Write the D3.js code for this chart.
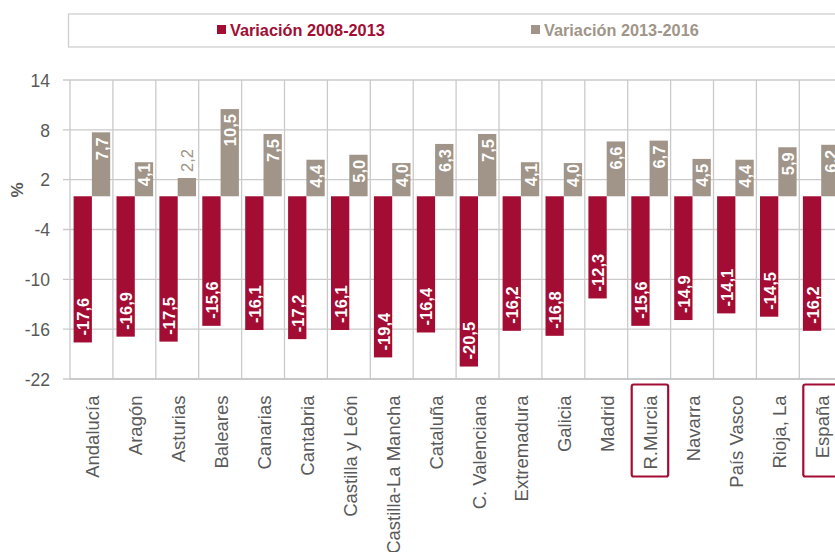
<!DOCTYPE html>
<html><head><meta charset="utf-8">
<script src="https://cdn.jsdelivr.net/npm/d3@7"></script>
<style>body{margin:0;background:#fff}svg{display:block;font-family:Arial,"Liberation Sans",sans-serif}</style>
</head><body><svg id="c" width="835" height="552"></svg>
<script>
const categories = ["Andalucía","Aragón","Asturias","Baleares","Canarias","Cantabria","Castilla y León","Castilla-La Mancha","Cataluña","C. Valenciana","Extremadura","Galicia","Madrid","R.Murcia","Navarra","País Vasco","Rioja, La","España"];
const var2008_2013 = [-17.6,-16.9,-17.5,-15.6,-16.1,-17.2,-16.1,-19.4,-16.4,-20.5,-16.2,-16.8,-12.3,-15.6,-14.9,-14.1,-14.5,-16.2];
const var2013_2016 = [7.7,4.1,2.2,10.5,7.5,4.4,5.0,4.0,6.3,7.5,4.1,4.0,6.6,6.7,4.5,4.4,5.9,6.2];
const seriesNames = ["Variación 2008-2013","Variación 2013-2016"];
const yTicks = [14,8,2,-4,-10,-16,-22];
const highlighted = ["R.Murcia","España"];

const colors = ["#A30D33","#A09588"];
const svg = d3.select("#c");
const pLeft = 70, pTop = 80, pBottom = 379, bw = 42.9;
const x0 = d3.scaleBand().domain(categories).range([pLeft, pLeft + bw*categories.length]).paddingInner(0).paddingOuter(0);
const x1 = d3.scaleBand().domain([0,1]).range([3.6, 40.2]);
const y = d3.scaleLinear().domain([-22,14]).range([pBottom, pTop]);
const fmt = v => v.toFixed(1).replace(".", ",");

// Legend box
svg.append("rect").attr("x",68.5).attr("y",14).attr("width",800).attr("height",33)
  .attr("fill","#fff").attr("stroke","#cfcfcf").attr("stroke-width",1.3);
const legX = [217, 531];
seriesNames.forEach((n,i)=>{
  svg.append("rect").attr("x",legX[i]).attr("y",25).attr("width",9).attr("height",9).attr("fill",colors[i]);
  svg.append("text").attr("x",legX[i]+13).attr("y",36).attr("font-size",16.3).attr("font-weight","bold")
    .attr("fill",colors[i]).text(n);
});

// Grid
const grid = svg.append("g").attr("stroke","#cacaca").attr("stroke-width",1.3);
yTicks.forEach(t=>{
  grid.append("line").attr("x1",pLeft-7).attr("x2",840).attr("y1",y(t)).attr("y2",y(t));
});
categories.forEach((c,i)=>{
  grid.append("line").attr("x1",x0(c)).attr("x2",x0(c)).attr("y1",pTop).attr("y2",pBottom);
});
grid.append("line").attr("x1",x0.range()[1]).attr("x2",x0.range()[1]).attr("y1",pTop).attr("y2",pBottom);

// Y axis labels
const yAxis = svg.append("g").attr("transform",`translate(${pLeft-17},0)`)
  .call(d3.axisLeft(y).tickValues(yTicks).tickSize(0).tickFormat(d=>d));
yAxis.select(".domain").remove();
yAxis.selectAll("text").attr("font-size",17.5).attr("fill","#595959").attr("font-family","Arial,'Liberation Sans',sans-serif").attr("dy","0.36em");

svg.append("text").attr("transform","translate(23,190) rotate(-90)").attr("text-anchor","middle")
  .attr("font-size",17).attr("font-weight","bold").attr("fill","#595959").text("%");

// Bars
const data = categories.map((c,i)=>({c, v:[var2008_2013[i], var2013_2016[i]]}));
const g = svg.append("g");
data.forEach(d=>{
  d.v.forEach((v,s)=>{
    const bx = x0(d.c) + x1(s), w = x1.bandwidth();
    const y0 = y(0), yv = y(v);
    g.append("rect").attr("x",bx).attr("y",Math.min(y0,yv)).attr("width",w).attr("height",Math.abs(yv-y0)).attr("fill",colors[s]);
    const cx = bx + w/2;
    const t = g.append("text").attr("font-size",16.5).attr("font-weight","bold").attr("dominant-baseline","central").text(fmt(v));
    const h = Math.abs(yv-y0);
    if (v < 0) {
      t.attr("transform",`translate(${cx+0.5},${yv-7}) rotate(-90)`).attr("text-anchor","start").attr("fill","#fff");
    } else if (h > 36) {
      t.attr("transform",`translate(${cx+0.5},${yv+5}) rotate(-90)`).attr("text-anchor","end").attr("fill","#fff");
    } else if (h > 26) {
      t.attr("transform",`translate(${cx+0.5},${yv+1}) rotate(-90)`).attr("text-anchor","end").attr("fill","#fff");
    } else {
      t.attr("transform",`translate(${cx+0.5},${yv-6}) rotate(-90)`).attr("text-anchor","start").attr("fill",colors[1]).attr("font-weight","normal");
    }
  });
});

// Bottom axis line
svg.append("line").attr("x1",pLeft).attr("x2",840).attr("y1",pBottom).attr("y2",pBottom).attr("stroke","#c4c4c4").attr("stroke-width",1.5);

// Category labels
const xa = svg.append("g").attr("transform",`translate(0,${pBottom})`).call(d3.axisBottom(x0).tickSize(0));
xa.select(".domain").remove();
xa.selectAll("text").attr("font-size",18.5).attr("fill","#595959").attr("font-family","Arial,'Liberation Sans',sans-serif")
  .attr("text-anchor","end").attr("dy",null).attr("y",0).attr("x",0).attr("dominant-baseline","central")
  .attr("transform","translate(1.5,16.5) rotate(-90)");

// Highlight boxes
highlighted.forEach(c=>{
  svg.append("rect").attr("x",x0(c)+4).attr("y",384.5).attr("width",36.5).attr("height",92)
    .attr("rx",2).attr("fill","none").attr("stroke","#A30D33").attr("stroke-width",2.2);
});
</script></body></html>
